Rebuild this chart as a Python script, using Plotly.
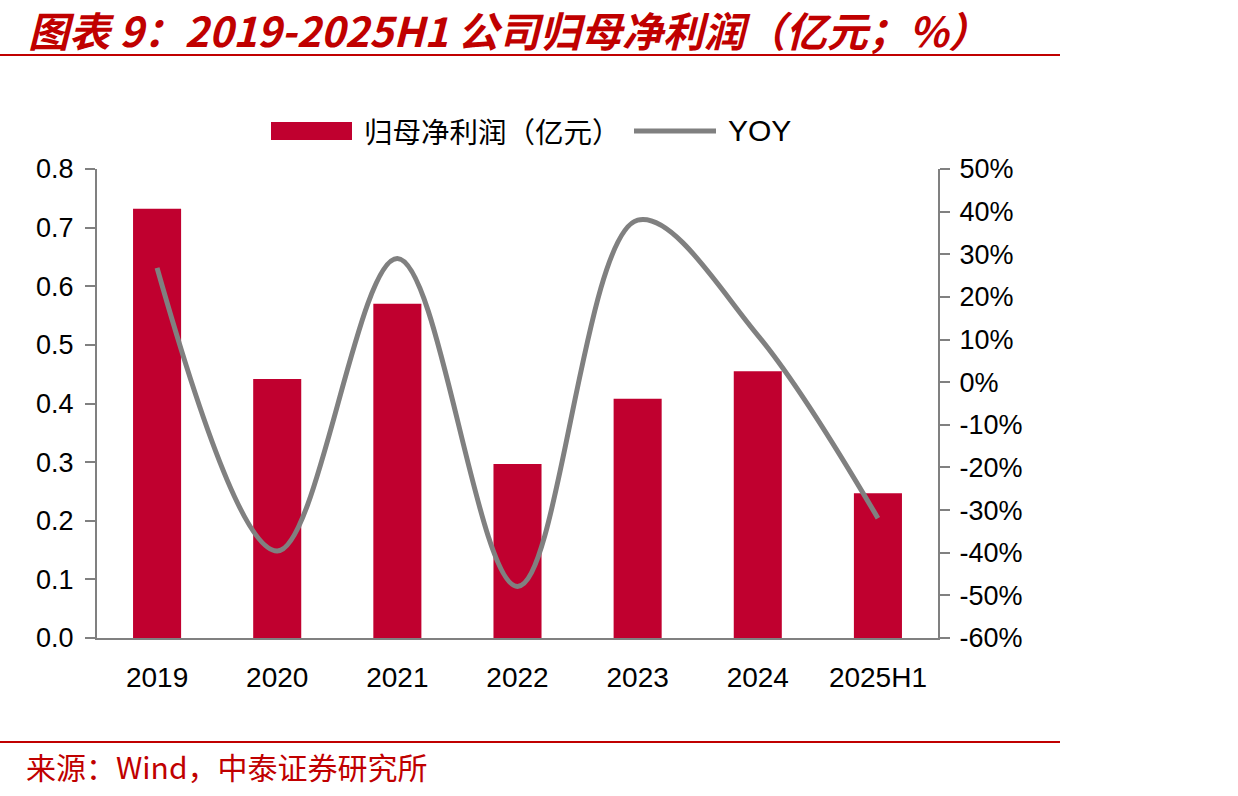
import plotly.graph_objects as go

categories = ["2019", "2020", "2021", "2022", "2023", "2024", "2025H1"]
net_profit = [0.732, 0.442, 0.570, 0.297, 0.408, 0.455, 0.247]
yoy = [26.8, -39.6, 29.0, -47.9, 38.0, 11.0, -31.9]
left_ticks = [0.0, 0.1, 0.2, 0.3, 0.4, 0.5, 0.6, 0.7, 0.8]
right_ticks = [-60, -50, -40, -30, -20, -10, 0, 10, 20, 30, 40, 50]
right_labels = [f"{v}%" for v in right_ticks]

W, H = 1238, 796
L, R, T, B = 97, 938, 169, 638
PW, PH = R - L, B - T

def px(x):
    return (x - L) / PW

def py(y):
    return (B - y) / PH

RED = "#C00000"
BAR = "#C0002F"
GRAY = "#808080"

fig = go.Figure()
fig.add_trace(go.Bar(x=categories, y=net_profit, marker=dict(color=BAR, line=dict(width=0)),
                     name="归母净利润（亿元）", showlegend=False))
fig.add_trace(go.Scatter(x=categories, y=yoy, yaxis="y2", mode="lines",
                         line=dict(color=GRAY, width=5, shape="spline", smoothing=1.0),
                         name="YOY", showlegend=False))

axis_font = dict(family="Liberation Sans, Arial, sans-serif", size=27, color="#000000")
x_font = dict(family="Liberation Sans, Arial, sans-serif", size=28, color="#000000")

fig.update_layout(
    width=W, height=H,
    margin=dict(l=L, r=W - R, t=T, b=H - B, pad=0),
    paper_bgcolor="white", plot_bgcolor="white",
    bargap=0.6,
    xaxis=dict(showgrid=False, showline=True, linecolor=GRAY, linewidth=2,
               ticks="", tickfont=x_font, ticklabelstandoff=13, zeroline=False),
    yaxis=dict(range=[0, 0.8], tickvals=left_ticks, tickformat=".1f", showgrid=False,
               showline=True, linecolor=GRAY, linewidth=2, ticks="outside",
               ticklen=10, tickcolor=GRAY, tickwidth=2, tickfont=axis_font,
               zeroline=False, ticklabelstandoff=6),
    yaxis2=dict(range=[-60, 50], tickvals=right_ticks, ticktext=right_labels,
                overlaying="y", side="right",
                showgrid=False, showline=True, linecolor=GRAY, linewidth=2,
                ticks="outside", ticklen=10, tickcolor=GRAY, tickwidth=2,
                tickfont=axis_font, zeroline=False, ticklabelstandoff=4),
    showlegend=False,
)

shapes = [
    dict(type="line", xref="paper", yref="paper", x0=px(0), x1=px(1060), y0=py(55), y1=py(55),
         line=dict(color=RED, width=2)),
    dict(type="line", xref="paper", yref="paper", x0=px(0), x1=px(1060), y0=py(742), y1=py(742),
         line=dict(color=RED, width=2)),
    dict(type="rect", xref="paper", yref="paper", x0=px(271), x1=px(352), y0=py(140), y1=py(122),
         fillcolor=BAR, line=dict(width=0)),
    dict(type="line", xref="paper", yref="paper", x0=px(634), x1=px(716), y0=py(131), y1=py(131),
         line=dict(color=GRAY, width=5)),
]
for s in shapes:
    fig.add_shape(**s)

cjk = "Noto Sans CJK SC, sans-serif"
fig.add_annotation(xref="paper", yref="paper", x=px(26), y=py(29), xanchor="left", yanchor="middle",
                   text="<b><i>图表 9：2019-2025H1 公司归母净利润（亿元；%）</i></b>", showarrow=False,
                   font=dict(family=cjk, size=41, color=RED))
fig.add_annotation(xref="paper", yref="paper", x=px(24), y=py(766), xanchor="left", yanchor="middle",
                   text="来源：Wind，中泰证券研究所", showarrow=False,
                   font=dict(family=cjk, size=30, color=RED))
fig.add_annotation(xref="paper", yref="paper", x=px(362), y=py(131), xanchor="left", yanchor="middle",
                   text="归母净利润（亿元）", showarrow=False,
                   font=dict(family=cjk, size=28.5, color="#000000"))
fig.add_annotation(xref="paper", yref="paper", x=px(726), y=py(131), xanchor="left", yanchor="middle",
                   text="YOY", showarrow=False,
                   font=dict(family="Liberation Sans, Arial, sans-serif", size=30, color="#000000"))

fig.write_html("out.html")
